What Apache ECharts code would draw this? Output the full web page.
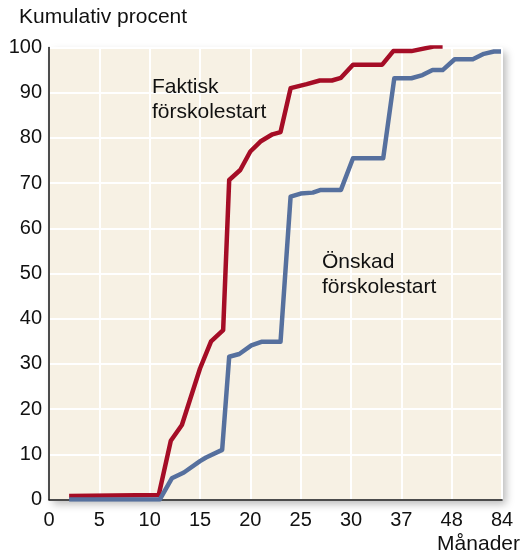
<!DOCTYPE html>
<html lang="sv">
<head>
    <meta charset="UTF-8">
    <title>Kumulativ procent - förskolestart</title>
    <script src="https://cdn.jsdelivr.net/npm/echarts@6/dist/echarts.min.js"></script>
    <style>
        html, body { margin: 0; padding: 0; background: #fff; }
    </style>
</head>
<body>
    <div id="main" style="width: 522px; height: 554px;"></div>
    <script type="text/javascript">
        // x tick labels (months); the axis is evenly spaced, one label every 5 steps
        const xTickLabels = ['0', '5', '10', '15', '20', '25', '30', '37', '48', '84'];

        // positions on the x scale (steps)
        const faktiskX = [2, 10.9, 12.1, 13.2, 15, 16.1, 17.3, 17.9, 19, 20, 21, 22.2, 23, 24, 25.6, 26.9, 28.1, 29, 30.2, 33.1, 34.2, 36, 38.2, 39.1];
        const faktiskY = [0.8, 1, 13, 16.5, 29, 35, 37.5, 70.7, 72.9, 77, 79.2, 80.8, 81.3, 91, 91.9, 92.7, 92.7, 93.3, 96.2, 96.2, 99.2, 99.2, 100.2, 100.2];

        const onskadX = [2, 11, 12.2, 13.4, 15, 15.6, 17.2, 17.9, 18.9, 20.1, 21.1, 23, 24, 25, 26.2, 27, 29, 30.2, 33.2, 34.3, 36, 37.1, 38.1, 39.1, 40.3, 42.1, 43.2, 44.2, 44.9];
        const onskadY = [0, 0, 4.7, 6, 8.5, 9.3, 11, 31.6, 32.2, 34.1, 34.9, 34.9, 67, 67.7, 67.9, 68.5, 68.5, 75.5, 75.5, 93.2, 93.2, 93.9, 95, 95, 97.4, 97.4, 98.6, 99.1, 99.1];

        const zip = (xs, ys) => xs.map((x, i) => [x, ys[i]]);

        let myChart = echarts.init(document.getElementById('main'));
        const font = '"Liberation Sans", Arial, Helvetica, sans-serif';

        let options = {
            animation: false,
            textStyle: { fontFamily: font },
            grid: {
                show: true,
                left: 49, right: 20, top: 47.5, bottom: 54.4,
                backgroundColor: '#f7f1e4',
                borderWidth: 0,
                shadowColor: 'rgba(0,0,0,0.28)',
                shadowBlur: 8,
                shadowOffsetX: 4,
                shadowOffsetY: 4
            },
            xAxis: {
                type: 'value',
                min: 0, max: 45, interval: 5,
                axisLine: { show: true, onZero: false, lineStyle: { color: '#111', width: 1.5 } },
                axisTick: { show: false },
                splitLine: { show: true, lineStyle: { color: '#ffffff', width: 2 } },
                axisLabel: {
                    color: '#111', fontSize: 20, fontFamily: font, margin: 11,
                    formatter: (v) => xTickLabels[Math.round(v / 5)]
                }
            },
            yAxis: {
                type: 'value',
                min: 0, max: 100, interval: 10,
                axisLine: { show: true, lineStyle: { color: '#111', width: 1.5 } },
                axisTick: { show: false },
                splitLine: { show: true, lineStyle: { color: '#ffffff', width: 2 } },
                axisLabel: { color: '#111', fontSize: 20, fontFamily: font, margin: 7 }
            },
            series: [
                {
                    name: 'Faktisk förskolestart',
                    type: 'line',
                    data: zip(faktiskX, faktiskY),
                    showSymbol: false,
                    lineStyle: { color: '#a50d26', width: 4.5, cap: 'butt', join: 'round' }
                },
                {
                    name: 'Önskad förskolestart',
                    type: 'line',
                    data: zip(onskadX, onskadY),
                    showSymbol: false,
                    lineStyle: { color: '#56709e', width: 4.5, cap: 'butt', join: 'round' }
                }
            ],
            graphic: [
                { type: 'text', z: 100, left: 19, top: 7, style: { text: 'Kumulativ procent', font: '21px ' + font, fill: '#111' } },
                { type: 'text', z: 100, right: 2, top: 534, style: { text: 'Månader', font: '21px ' + font, fill: '#111' } },
                { type: 'text', z: 100, left: 152, top: 75, style: { text: 'Faktisk\nförskolestart', font: '21px ' + font, lineHeight: 25, fill: '#111' } },
                { type: 'text', z: 100, left: 322, top: 250, style: { text: 'Önskad\nförskolestart', font: '21px ' + font, lineHeight: 25, fill: '#111' } }
            ]
        };

        myChart.setOption(options);
    </script>
</body>
</html>
